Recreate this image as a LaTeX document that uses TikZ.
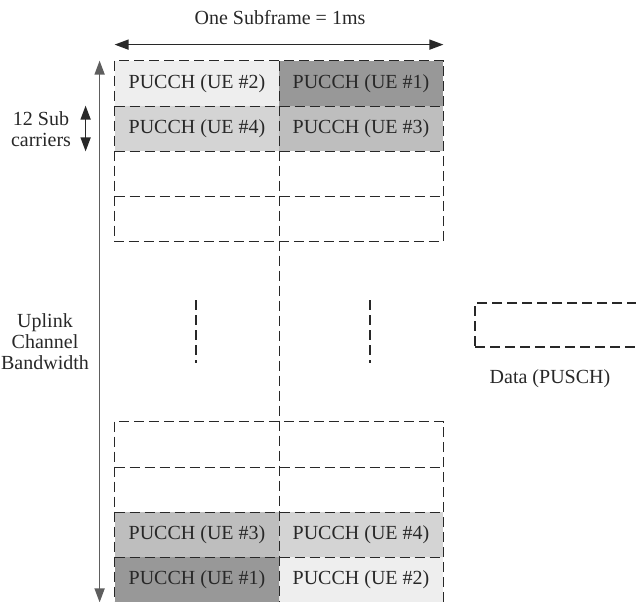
\documentclass[tikz,border=0pt]{standalone}
\usepackage{fontspec}
\setmainfont{Liberation Serif}
\definecolor{ueone}{RGB}{152,152,152}
\definecolor{uethree}{RGB}{190,190,190}
\definecolor{uefour}{RGB}{212,212,212}
\definecolor{uetwo}{RGB}{238,238,238}
\definecolor{ink}{RGB}{40,40,40}
\usetikzlibrary{arrows.meta,positioning}

\begin{document}
\begin{tikzpicture}[x=0.5pt,y=-0.5pt,
    cell/.style={minimum width=82pt,minimum height=22.5pt,inner sep=0pt,
      font=\fontsize{10}{12}\selectfont,text=ink},
    grid/.style={draw=ink,line width=0.7pt,dash pattern=on 5pt off 2.5pt},
    span/.style={draw=ink,line width=0.8pt,
      {Triangle[length=7pt,width=5pt]}-{Triangle[length=7pt,width=5pt]}},
    lbl/.style={font=\fontsize{10}{10.5}\selectfont,text=ink,align=center}]
  \useasboundingbox (0,0) rectangle (636,601);
  % control region, top
  \node[cell,fill=uetwo]   (r1c1) at (197,83.5)  {PUCCH (UE \#2)};
  \node[cell,fill=ueone]   (r1c2) at (361,83.5)  {PUCCH (UE \#1)};
  \node[cell,fill=uefour]  (r2c1) at (197,128.5) {PUCCH (UE \#4)};
  \node[cell,fill=uethree] (r2c2) at (361,128.5) {PUCCH (UE \#3)};
  \node[cell] (r3c1) at (197,173.5) {};
  \node[cell] (r3c2) at (361,173.5) {};
  \node[cell] (r4c1) at (197,218.5) {};
  \node[cell] (r4c2) at (361,218.5) {};
  % control region, bottom
  \node[cell] (b1c1) at (197,444.5) {};
  \node[cell] (b1c2) at (361,444.5) {};
  \node[cell] (b2c1) at (197,489.5) {};
  \node[cell] (b2c2) at (361,489.5) {};
  \node[cell,fill=uethree] (b3c1) at (197,534.5) {PUCCH (UE \#3)};
  \node[cell,fill=uefour]  (b3c2) at (361,534.5) {PUCCH (UE \#4)};
  \node[cell,fill=ueone]   (b4c1) at (197,579.5) {PUCCH (UE \#1)};
  \node[cell,fill=uetwo]   (b4c2) at (361,579.5) {PUCCH (UE \#2)};

  % dashed grid lines
  \draw[grid] (r1c1.north west) rectangle (r4c2.south east);
  \draw[grid] (b1c1.north west) rectangle (b4c2.south east);
  \foreach \r in {1,2,3}{
    \draw[grid] (r\r c1.south west) -- (r\r c2.south east);
    \draw[grid] (b\r c1.south west) -- (b\r c2.south east);
  }
  \draw[grid] (r1c1.north east) -- (b4c1.south east);
  \draw[grid] (196,300) -- (196,363);
  \draw[grid] (370,300) -- (370,363);

  % data region
  \node[cell,grid,minimum height=22pt] (data) at (557,325) {};
  \node[lbl] (datalbl) at (550,379) {Data (PUSCH)};

  % dimensions
  \draw[span] ([yshift=8pt]r1c1.north west) -- ([yshift=8pt]r1c2.north east);
  \node[lbl] (subframe) at (280,18) {One Subframe = 1ms};
  \draw[span,draw=ink!75] ([xshift=-7.5pt]r1c1.north west) -- ([xshift=-7.5pt]b4c1.south west);
  \draw[span] ([xshift=-14.5pt]r2c1.north west) -- ([xshift=-14.5pt]r2c1.south west);
  \node[lbl] (subcar) at (41,129) {12 Sub\\carriers};
  \node[lbl] (bw) at (45,342) {Uplink\\Channel\\Bandwidth};
\end{tikzpicture}
\end{document}
